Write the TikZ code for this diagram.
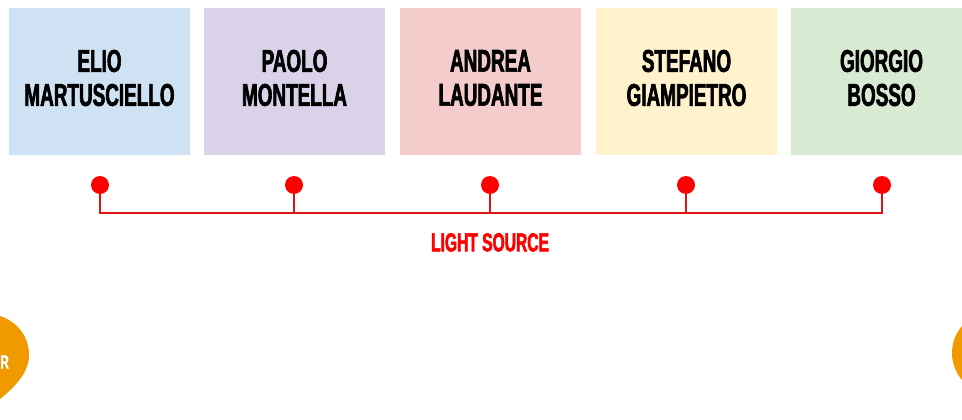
\documentclass[tikz,border=0pt]{standalone}
\usepackage{fontspec}
\setmainfont{Liberation Sans}
\newfontfamily\namefont[FakeStretch=0.60,FakeBold=2]{Liberation Sans}
\usetikzlibrary{positioning}

\definecolor{boxblue}{RGB}{207,226,243}
\definecolor{boxlilac}{RGB}{217,210,233}
\definecolor{boxpink}{RGB}{244,204,204}
\definecolor{boxcream}{RGB}{255,242,204}
\definecolor{boxgreen}{RGB}{217,234,211}
\definecolor{pinorange}{RGB}{241,154,0}
\definecolor{srcred}{RGB}{255,0,0}
\definecolor{linered}{RGB}{220,20,20}

\tikzset{
    namebox/.style={minimum width=181pt, minimum height=147pt, inner sep=0pt},
    nametext/.style={align=center, inner sep=0pt,
        font=\namefont\bfseries\fontsize{31.5}{34}\selectfont},
    srcdot/.style={circle, fill=srcred, minimum size=18pt, inner sep=0pt},
    srcline/.style={linered, line width=1.6pt}
}

\begin{document}
\begin{tikzpicture}[x=1pt,y=-1pt]

        \useasboundingbox (0,0) rectangle (962,420);
        \clip (0,0) rectangle (962,420);

        \node[namebox, fill=boxblue] (elio) at (99.5,81.5) {};
        \node[namebox, fill=boxlilac] (paolo) at (294.5,81.5) {};
        \node[namebox, fill=boxpink] (andrea) at (490.5,81.5) {};
        \node[namebox, fill=boxcream] (stefano) at (686.5,81.5) {};
        \node[namebox, fill=boxgreen] (giorgio) at (881.5,81.5) {};

        \node[nametext] (elio-t) at (99.5,78) {ELIO\\MARTUSCIELLO};
        \node[nametext] (paolo-t) at (294.5,78) {PAOLO\\MONTELLA};
        \node[nametext] (andrea-t) at (490.5,78) {ANDREA\\LAUDANTE};
        \node[nametext] (stefano-t) at (686.5,78) {STEFANO\\GIAMPIETRO};
        \node[nametext] (giorgio-t) at (881.5,78) {GIORGIO\\BOSSO};

        \node[srcdot] (s1) at (100,185) {};
        \node[srcdot] (s2) at (294,185) {};
        \node[srcdot] (s3) at (490,185) {};
        \node[srcdot] (s4) at (686,185) {};
        \node[srcdot] (s5) at (882,185) {};

        \coordinate (bar) at (0,213);

        \draw[srcline] (s1) -- (s1|-bar) -- (s5|-bar) -- (s5);
        \draw[srcline] (s2) -- (s2|-bar);
        \draw[srcline] (s3) -- (s3|-bar);
        \draw[srcline] (s4) -- (s4|-bar);

        \node[below=20pt of s3|-bar, inner sep=0pt, text=srcred,
            font=\namefont\bfseries\fontsize{26}{26}\selectfont] (light) {LIGHT SOURCE};

        % orange pins at the edges
        \fill[pinorange] (0,316) .. controls (18,322) and (29,337) .. (29,355)
            .. controls (29,372) and (16,386) .. (0,399) -- cycle;
        \node[anchor=east, text=white, inner sep=0pt,
            font=\namefont\bfseries\fontsize{19}{19}\selectfont] (pinl) at (9,362) {R};
        \fill[pinorange] (993.5,353) circle (41.5);

\end{tikzpicture}
\end{document}
